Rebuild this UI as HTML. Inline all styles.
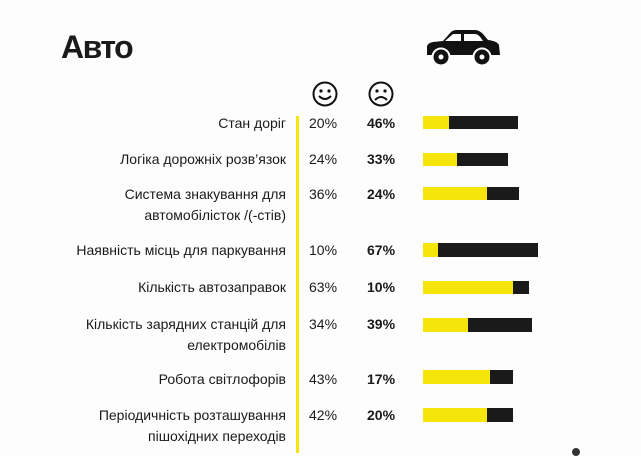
<!DOCTYPE html>
<html><head><meta charset="utf-8"><style>
body{margin:0;width:641px;height:453px;background:#fdfdfd;overflow:hidden;position:relative;font-family:"Liberation Sans","DejaVu Sans",sans-serif;color:#1a1a1a}
.a{position:absolute}
.l{position:absolute;right:355px;text-align:right;font-size:14px;line-height:21px;white-space:nowrap}
.p{position:absolute;left:309px;font-size:14px;line-height:20px}
.b{position:absolute;left:367px;font-size:14px;line-height:20px;font-weight:bold}
.y{position:absolute;left:423px;height:13px;background:#f5e50a}
.k{position:absolute;height:13px;background:#1a1a1a}
</style></head><body>
<div class="a" style="left:61px;top:29px;font-size:32px;font-weight:bold;letter-spacing:-1.5px">Авто</div>
<svg class="a" style="left:423px;top:28px" width="80" height="42" viewBox="0 0 80 40">
<path d="M4 26 L4 17 Q5 14 10 13 L20 12 L28 3 Q30 1 34 1 L52 1 Q56 1 60 5 L65 11 Q74 12 76 16 L77 26 Z" fill="#111"/>
<path d="M22 12 L30 5 L38 5 L38 12 Z M41 5 L52 5 Q55 5 58 9 L60 12 L41 12Z" fill="#fdfdfd"/>
<circle cx="18" cy="28" r="8.5" fill="#111" stroke="#fdfdfd" stroke-width="2"/><circle cx="18" cy="28" r="2.5" fill="#fdfdfd"/>
<circle cx="59" cy="28" r="8.5" fill="#111" stroke="#fdfdfd" stroke-width="2"/><circle cx="59" cy="28" r="2.5" fill="#fdfdfd"/>
</svg>
<svg class="a" style="left:311px;top:81px" width="90" height="28">
<circle cx="14" cy="13" r="11.5" fill="none" stroke="#111" stroke-width="2"/><circle cx="10" cy="10" r="1.6" fill="#111"/><circle cx="18" cy="10" r="1.6" fill="#111"/><path d="M8 15 Q14 21 20 15" fill="none" stroke="#111" stroke-width="2"/>
<circle cx="70" cy="13" r="11.5" fill="none" stroke="#111" stroke-width="2"/><circle cx="66" cy="10" r="1.6" fill="#111"/><circle cx="74" cy="10" r="1.6" fill="#111"/><path d="M64 19 Q70 13 76 19" fill="none" stroke="#111" stroke-width="2"/>
</svg>
<div class="a" style="left:296px;top:116px;width:3px;height:337px;background:#f5e50a"></div>

<div class="l" style="top:113px">Стан доріг</div><div class="p" style="top:113px">20%</div><div class="b" style="top:113px">46%</div>
<div class="y" style="top:116px;width:26px"></div><div class="k" style="top:116px;left:449px;width:69px"></div>

<div class="l" style="top:149px">Логіка дорожніх розв’язок</div><div class="p" style="top:149px">24%</div><div class="b" style="top:149px">33%</div>
<div class="y" style="top:153px;width:34px"></div><div class="k" style="top:153px;left:457px;width:51px"></div>

<div class="l" style="top:184px">Система знакування для<br>автомобілісток /(-стів)</div><div class="p" style="top:184px">36%</div><div class="b" style="top:184px">24%</div>
<div class="y" style="top:187px;width:64px"></div><div class="k" style="top:187px;left:487px;width:32px"></div>

<div class="l" style="top:240px">Наявність місць для паркування</div><div class="p" style="top:240px">10%</div><div class="b" style="top:240px">67%</div>
<div class="y" style="top:243px;width:15px;height:14px"></div><div class="k" style="top:243px;left:438px;width:100px;height:14px"></div>

<div class="l" style="top:277px">Кількість автозаправок</div><div class="p" style="top:277px">63%</div><div class="b" style="top:277px">10%</div>
<div class="y" style="top:281px;width:90px"></div><div class="k" style="top:281px;left:513px;width:16px"></div>

<div class="l" style="top:314px">Кількість зарядних станцій для<br>електромобілів</div><div class="p" style="top:314px">34%</div><div class="b" style="top:314px">39%</div>
<div class="y" style="top:318px;width:45px;height:14px"></div><div class="k" style="top:318px;left:468px;width:64px;height:14px"></div>

<div class="l" style="top:369px">Робота світлофорів</div><div class="p" style="top:369px">43%</div><div class="b" style="top:369px">17%</div>
<div class="y" style="top:370px;width:67px;height:14px"></div><div class="k" style="top:370px;left:490px;width:23px;height:14px"></div>

<div class="l" style="top:405px">Періодичність розташування<br>пішохідних переходів</div><div class="p" style="top:405px">42%</div><div class="b" style="top:405px">20%</div>
<div class="y" style="top:408px;width:64px;height:14px"></div><div class="k" style="top:408px;left:487px;width:26px;height:14px"></div>

<div class="a" style="left:572px;top:448px;width:8px;height:8px;border-radius:50%;background:#333"></div>
</body></html>
